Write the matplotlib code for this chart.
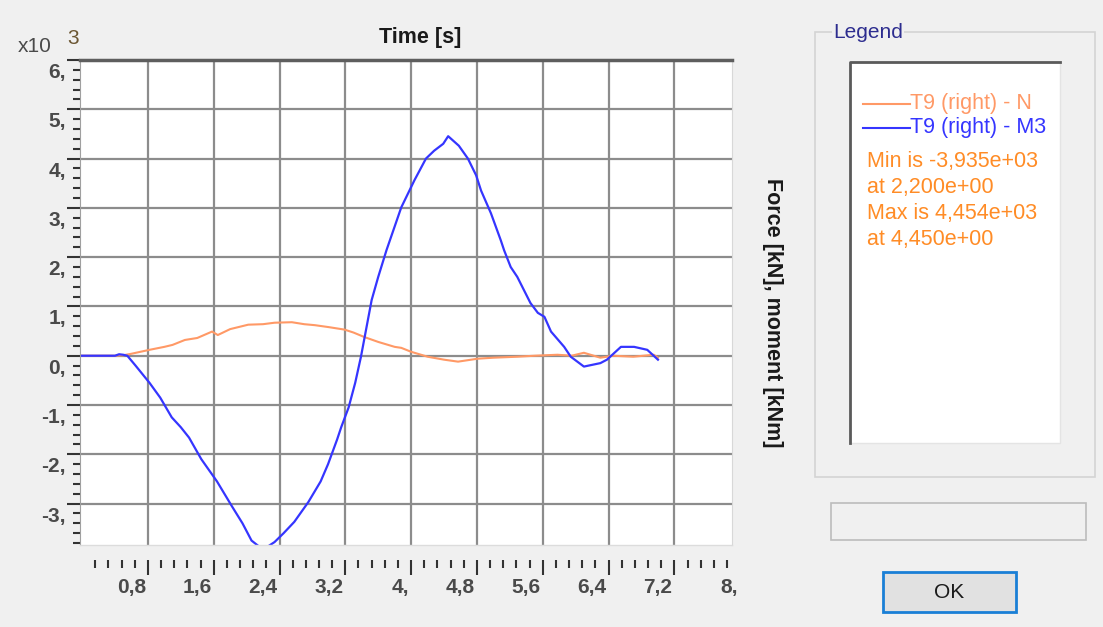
import numpy as np
import matplotlib
matplotlib.use('Agg')
import matplotlib.pyplot as plt
import matplotlib.transforms as mtrans
from matplotlib.patches import Rectangle
from matplotlib.lines import Line2D

plt.rcParams['font.family'] = ['Liberation Sans', 'DejaVu Sans']

# data (values in kN / kNm, x10^3)
t_n = [0.0, 0.4, 0.5, 0.6, 0.82, 1.0, 1.1, 1.25, 1.4, 1.58, 1.65, 1.8, 2.02, 2.2, 2.34,
       2.55, 2.7, 2.83, 3.0, 3.19, 3.3, 3.43, 3.6, 3.8, 3.88, 4.0, 4.2, 4.4, 4.57, 4.81,
       5.0, 5.29, 5.5, 5.78, 5.95, 6.1, 6.3, 6.46, 6.7, 6.95, 7.0]
n_val = [0.0, 0.0, 0.01, 0.04, 0.12, 0.18, 0.22, 0.32, 0.36, 0.49, 0.42, 0.54, 0.63, 0.64, 0.67,
         0.68, 0.64, 0.62, 0.58, 0.53, 0.47, 0.38, 0.28, 0.18, 0.16, 0.08, -0.02, -0.08, -0.12, -0.06,
         -0.04, -0.02, 0.0, 0.02, 0.0, 0.06, -0.04, 0.0, -0.02, 0.02, -0.04]

t_m = [0.0, 0.4, 0.45, 0.5, 0.55, 0.65, 0.82, 0.95, 1.09, 1.2, 1.3, 1.45, 1.64, 1.82, 1.95,
       2.06, 2.2, 2.34, 2.45, 2.58, 2.75, 2.9, 2.99, 3.1, 3.15, 3.24, 3.32, 3.39, 3.46, 3.52,
       3.6, 3.7, 3.88, 4.04, 4.18, 4.28, 4.39, 4.45, 4.58, 4.69, 4.79, 4.85, 4.97, 5.09, 5.13,
       5.21, 5.29, 5.45, 5.54, 5.62, 5.7, 5.86, 5.94, 6.1, 6.3, 6.38, 6.55, 6.71, 6.87, 7.0]
m_val = [0.0, 0.0, 0.03, 0.02, 0.0, -0.2, -0.55, -0.85, -1.25, -1.45, -1.66, -2.1, -2.55, -3.05, -3.4,
         -3.75, -3.935, -3.78, -3.6, -3.37, -2.97, -2.55, -2.2, -1.7, -1.45, -1.05, -0.55, -0.02, 0.6, 1.13,
         1.6, 2.14, 3.01, 3.56, 4.0, 4.16, 4.3, 4.454, 4.26, 4.0, 3.66, 3.35, 2.89, 2.34, 2.14,
         1.8, 1.6, 1.07, 0.87, 0.79, 0.49, 0.18, -0.02, -0.22, -0.15, -0.08, 0.18, 0.18, 0.12, -0.08]

x_major = [0.8, 1.6, 2.4, 3.2, 4.0, 4.8, 5.6, 6.4, 7.2, 8.0]
x_labels = ['0,8', '1,6', '2,4', '3,2', '4,', '4,8', '5,6', '6,4', '7,2', '8,']
y_major = [-3, -2, -1, 0, 1, 2, 3, 4, 5, 6]
y_labels = ['-3,', '-2,', '-1,', '0,', '1,', '2,', '3,', '4,', '5,', '6,']

series_names = ['T9 (right) - N', 'T9 (right) - M3']
stats_lines = ['Min is -3,935e+03', 'at 2,200e+00', 'Max is 4,454e+03', 'at 4,450e+00']

c_n = '#ff9966'
c_m = '#3535ff'
c_stat = '#ff8c26'

W, H = 1103, 627
fig = plt.figure(figsize=(W / 100, H / 100), dpi=100, facecolor='#f0f0f0')


def fx(x):
    return x / W


def fy(y):
    return 1 - y / H


ax = fig.add_axes([fx(80), fy(545), fx(732) - fx(80), fy(60) - fy(545)])
ax.set_facecolor('white')
ax.plot(t_n, n_val, color=c_n, lw=1.5, zorder=3)
ax.plot(t_m, m_val, color=c_m, lw=1.6, zorder=4)

ax.set_xlim(-0.025, 7.9)
ax.set_ylim(-3.84, 6)
ax.set_xticks(x_major[:-1])
ax.set_xticks(np.arange(0.16, 7.9, 0.16), minor=True)
ax.set_yticks(y_major)
ax.set_yticks(np.arange(-3.8, 6.01, 0.2), minor=True)
ax.grid(True, which='major', color='#8c8c8c', lw=1.6)

ax.tick_params(axis='x', which='both', labelbottom=False, direction='out', color='#333333', width=1.5)
ax.tick_params(axis='x', which='major', length=10.8)
ax.tick_params(axis='x', which='minor', length=5.8)
ax.tick_params(axis='y', which='both', labelleft=False, direction='out', color='#333333', width=1.5)
ax.tick_params(axis='y', which='major', length=9.4)
ax.tick_params(axis='y', which='minor', length=5.0)

ax.spines['bottom'].set_position(('outward', 15 * 0.72))
ax.spines['bottom'].set_color('none')
ax.spines['top'].set_color('#5e5e5e')
ax.spines['top'].set_linewidth(2.5)
ax.spines['left'].set_color('#a0a0a0')
ax.spines['right'].set_color('#d8d8d8')
fig.add_artist(Line2D([fx(80), fx(732)], [fy(545), fy(545)], color='#dcdcdc', lw=1))

# tick labels placed left of their tick, like the original
xtrans = mtrans.offset_copy(mtrans.blended_transform_factory(ax.transData, ax.transAxes),
                            fig=fig, x=-2, y=-42, units='dots')
for v, lab in zip(x_major, x_labels):
    ax.text(v, 0, lab, transform=xtrans, ha='right', va='center', fontsize=15,
            fontweight='bold', color='#4a4a4a', clip_on=False)
ytrans = mtrans.offset_copy(mtrans.blended_transform_factory(ax.transAxes, ax.transData),
                            fig=fig, x=-14, y=-3, units='dots')
for v, lab in zip(y_major, y_labels):
    ax.text(0, v, lab, transform=ytrans, ha='right', va='top', fontsize=15,
            fontweight='bold', color='#4a4a4a', clip_on=False)

fig.text(fx(35), fy(46), 'x10', ha='center', va='center', fontsize=15, color='#4a4a4a')
fig.text(fx(73), fy(38), '3', ha='center', va='center', fontsize=15, color='#6b5632')
fig.text(fx(420), fy(37), 'Time [s]', ha='center', va='center', fontsize=15.5,
         fontweight='bold', color='#1a1a1a')
fig.text(fx(773), fy(313), 'Force [kN], moment [kNm]', ha='center', va='center',
         rotation=-90, fontsize=15.5, fontweight='bold', color='#1a1a1a')

# legend panel
fig.add_artist(Rectangle((fx(815), fy(477)), fx(1095) - fx(815), fy(32) - fy(477),
                         transform=fig.transFigure, facecolor='none', edgecolor='#d4d4d4', lw=1.2))
fig.text(fx(833), fy(33), 'Legend', ha='left', va='center', fontsize=15, color='#2d2d8f',
         bbox=dict(facecolor='#f0f0f0', edgecolor='none', pad=1))
fig.add_artist(Rectangle((fx(850), fy(443)), fx(1060) - fx(850), fy(62) - fy(443),
                         transform=fig.transFigure, facecolor='white', edgecolor='#e4e4e4', lw=1))
fig.add_artist(Line2D([fx(850), fx(850), fx(1060)], [fy(443), fy(62), fy(62)],
                      color='#5a5a5a', lw=2))

for i, (name, col) in enumerate(zip(series_names, [c_n, c_m])):
    yy = 104 + 24 * i
    fig.add_artist(Line2D([fx(863), fx(910)], [fy(yy), fy(yy)], color=col, lw=1.5))
    fig.text(fx(910), fy(yy), name, ha='left', va='center', fontsize=15.5, color=col)
for i, s in enumerate(stats_lines):
    fig.text(fx(867), fy(162 + 26 * i), s, ha='left', va='center', fontsize=15.5, color=c_stat)

# empty status box and OK button
fig.add_artist(Rectangle((fx(831), fy(540)), fx(1086) - fx(831), fy(503) - fy(540),
                         transform=fig.transFigure, facecolor='#f0f0f0', edgecolor='#bcbcbc', lw=1.2))
fig.add_artist(Rectangle((fx(883), fy(612)), fx(1016) - fx(883), fy(572) - fy(612),
                         transform=fig.transFigure, facecolor='#e1e1e1', edgecolor='#1a7fd6', lw=2))
fig.text(fx(949), fy(592), 'OK', ha='center', va='center', fontsize=15, color='#1a1a1a')

plt.savefig('out.png', dpi=100, facecolor=fig.get_facecolor())
plt.close()
